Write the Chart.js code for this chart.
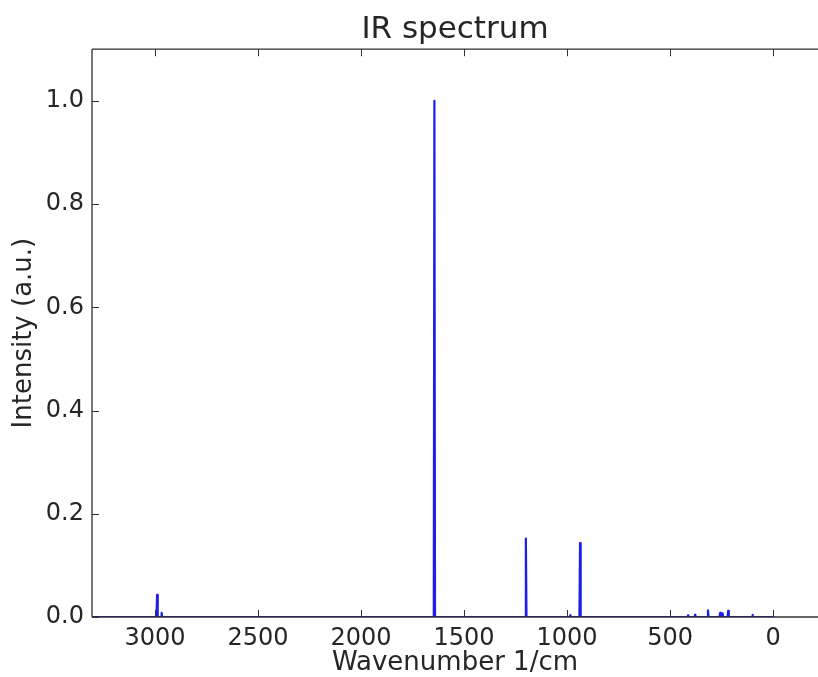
<!DOCTYPE html>
<html>
<head>
<meta charset="utf-8">
<title>IR spectrum</title>
<script src="https://cdn.jsdelivr.net/npm/chart.js@4"></script>
<style>
  html, body { margin: 0; padding: 0; background: #ffffff; overflow: hidden; }
  #wrap { width: 818px; height: 677px; }
</style>
</head>
<body>
<div id="wrap"><canvas id="ir" width="818" height="677"></canvas></div>
<script>
// Spectrum vertices (wavenumber in 1/cm, normalised intensity)
const wavenumber = [3300,
  2993, 2990, 2987,
  2970, 2968, 2966,
  1647, 1644, 1641,
  1203, 1200, 1197,
  987, 985, 983,
  940, 937, 934,
  415, 413, 411,
  381, 379, 377,
  319, 316, 313,
  260, 257, 254,
  248, 245, 242,
  221, 218, 215,
  102, 100, 98,
  0];
const intensity = [0,
  0, 0.043, 0,
  0, 0.008, 0,
  0, 1.0, 0,
  0, 0.152, 0,
  0, 0.003, 0,
  0, 0.143, 0,
  0, 0.003, 0,
  0, 0.004, 0,
  0, 0.013, 0,
  0, 0.008, 0,
  0, 0.007, 0,
  0, 0.012, 0,
  0, 0.004, 0,
  0];

const xTicks = [3000, 2500, 2000, 1500, 1000, 500, 0];
const yTicks = [0.0, 0.2, 0.4, 0.6, 0.8, 1.0];

const xRange = { min: -218, max: 3306 };
const yRange = { min: 0, max: 1.1 };

const textColor = '#262626';
const frameColor = '#303030';
const fontFamily = '"DejaVu Sans", "Liberation Sans", sans-serif';

// Frame and inward-pointing tick marks on the bottom, top and left sides
const framePlugin = {
  id: 'frame',
  afterDatasetsDraw(chart) {
    const { ctx, chartArea: a, scales } = chart;
    const len = 7;
    ctx.save();
    ctx.strokeStyle = frameColor;
    ctx.lineWidth = 1.3;
    ctx.beginPath();
    ctx.moveTo(a.left, a.bottom); ctx.lineTo(a.right + 2, a.bottom);
    ctx.moveTo(a.left, a.top); ctx.lineTo(a.right + 2, a.top);
    ctx.moveTo(a.left, a.top); ctx.lineTo(a.left, a.bottom);
    ctx.stroke();
    ctx.lineWidth = 1;
    ctx.beginPath();
    scales.x.ticks.forEach(t => {
      const px = Math.round(scales.x.getPixelForValue(t.value)) + 0.5;
      ctx.moveTo(px, a.bottom); ctx.lineTo(px, a.bottom - len);
      ctx.moveTo(px, a.top); ctx.lineTo(px, a.top + len);
    });
    scales.y.ticks.forEach(t => {
      const py = Math.round(scales.y.getPixelForValue(t.value)) + 0.5;
      ctx.moveTo(a.left, py); ctx.lineTo(a.left + len, py);
    });
    ctx.stroke();
    ctx.restore();
  }
};

new Chart(document.getElementById('ir'), {
  type: 'line',
  data: {
    datasets: [{
      data: wavenumber.map((w, i) => ({ x: w, y: intensity[i] })),
      borderColor: 'rgb(30, 30, 230)',
      borderWidth: 2.2,
      borderJoinStyle: 'round',
      borderCapStyle: 'round',
      pointRadius: 0,
      tension: 0,
      fill: false
    }]
  },
  options: {
    responsive: false,
    animation: false,
    events: [],
    layout: { padding: 0 },
    plugins: {
      legend: { display: false },
      tooltip: { enabled: false },
      title: {
        display: true,
        text: 'IR spectrum',
        fullSize: false,
        color: textColor,
        font: { family: fontFamily, size: 31, weight: 'normal', lineHeight: 1.2 },
        padding: { top: 11, bottom: 1 }
      }
    },
    scales: {
      x: {
        type: 'linear',
        reverse: true,
        min: xRange.min,
        max: xRange.max,
        grid: { display: false, drawTicks: false },
        border: { display: false },
        afterBuildTicks(scale) { scale.ticks = xTicks.map(v => ({ value: v })); },
        afterFit(scale) { scale.height = 60; },
        ticks: {
          color: textColor,
          padding: 7,
          maxRotation: 0,
          font: { family: fontFamily, size: 24 },
          callback: v => String(v)
        },
        title: {
          display: true,
          text: 'Wavenumber 1/cm',
          color: textColor,
          font: { family: fontFamily, size: 26, lineHeight: 1.05 },
          padding: { top: 0, bottom: 0 }
        }
      },
      y: {
        type: 'linear',
        min: yRange.min,
        max: yRange.max,
        grid: { display: false, drawTicks: false },
        border: { display: false },
        afterBuildTicks(scale) { scale.ticks = yTicks.map(v => ({ value: v })); },
        afterFit(scale) { scale.width = 92; },
        ticks: {
          color: textColor,
          padding: 8,
          font: { family: fontFamily, size: 24 },
          callback: v => v.toFixed(1)
        },
        title: {
          display: true,
          text: 'Intensity (a.u.)',
          color: textColor,
          font: { family: fontFamily, size: 26, lineHeight: 1.2 },
          padding: { top: 9, bottom: 0 }
        }
      }
    }
  },
  plugins: [framePlugin]
});
</script>
</body>
</html>
